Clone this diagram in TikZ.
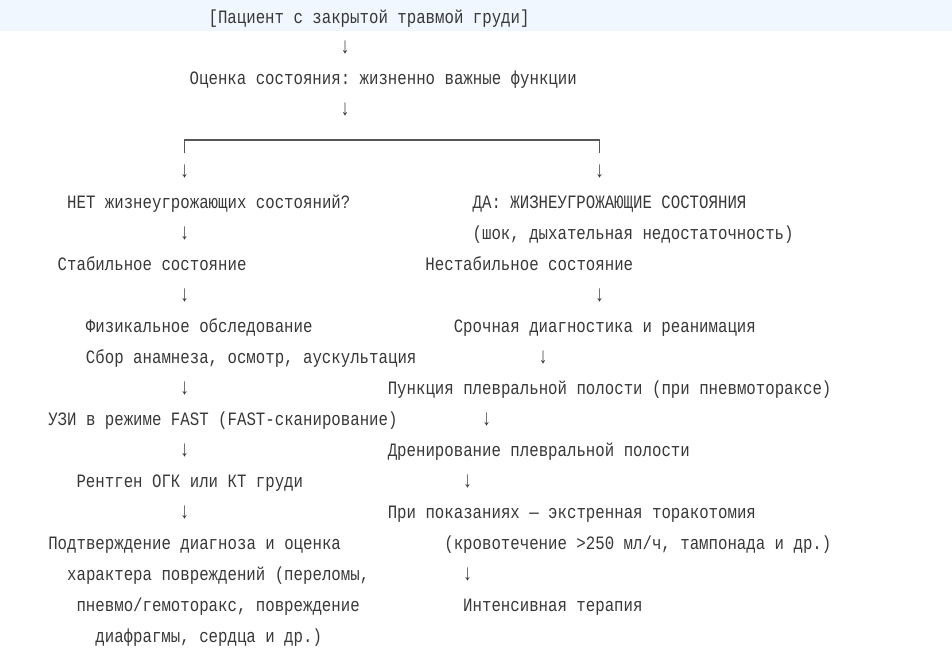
\documentclass[tikz,border=0pt]{standalone}
\usepackage{fontspec}
\setmonofont{Liberation Mono}
\usepackage{tikz}
\definecolor{ink}{HTML}{383838}
\definecolor{band}{HTML}{F0F7FE}
\tikzset{
  txt/.style={anchor=base west,inner sep=0pt,text=ink,yscale=1.2,transform shape,font=\ttfamily\fontsize{11.8pt}{14pt}\selectfont},
  arr/.style={inner sep=0pt,text=ink,yscale=1.35,transform shape,font=\ttfamily\fontsize{12.5pt}{14pt}\selectfont},
  line/.style={draw=ink!85,line width=0.9pt}
}
\begin{document}
\begin{tikzpicture}[x=0.75pt,y=-0.75pt]
	    \useasboundingbox (0,0) rectangle (952,651);
	    \fill[band] (0,0) rectangle (952,31);
	%Texte (Spalte/Zeile)
	    \foreach \c/\r/\t/\n in {17/0/{[Пациент с закрытой травмой груди]}/patient,
	      15/2/{Оценка состояния: жизненно важные функции}/assess,
	      2/6/{НЕТ жизнеугрожающих состояний?}/nothreat,
	      45/6/{ДА: ЖИЗНЕУГРОЖАЮЩИЕ СОСТОЯНИЯ}/threat,
	      45/7/{(шок, дыхательная недостаточность)}/shock,
	      1/8/{Стабильное состояние}/stable,
	      40/8/{Нестабильное состояние}/unstable,
	      4/10/{Физикальное обследование}/exam,
	      43/10/{Срочная диагностика и реанимация}/urgent,
	      4/11/{Сбор анамнеза, осмотр, аускультация}/history,
	      36/12/{Пункция плевральной полости (при пневмотораксе)}/puncture,
	      0/13/{УЗИ в режиме FAST (FAST-сканирование)}/fast,
	      36/14/{Дренирование плевральной полости}/drain,
	      3/15/{Рентген ОГК или КТ груди}/xray,
	      36/16/{При показаниях — экстренная торакотомия}/thoracotomy,
	      0/17/{Подтверждение диагноза и оценка}/confirm,
	      42/17/{(кровотечение >250 мл/ч, тампонада и др.)}/bleeding,
	      2/18/{характера повреждений (переломы,}/confirmb,
	      3/19/{пневмо/гемоторакс, повреждение}/confirmc,
	      44/19/{Интенсивная терапия}/intensive,
	      5/20/{диафрагмы, сердца и др.)}/confirmd}
	      \node[txt] (\n) at ({48+9.43*\c},{23+30.95*\r}) {\t};
	%Pfeile
	    \foreach \c/\r in {31/1,31/3,14/5,58/5,14/7,14/9,58/9,52/11,14/12,46/13,14/14,44/15,14/16,44/18}
	      \node[arr] at ({48+9.43*(\c+0.5)},{17+30.95*\r}) {↓};
	%Verzweigung
	    \coordinate (splitl) at ({48+9.43*14.5},153);
	    \coordinate (splitr) at ({48+9.43*58.5},153);
	    \draw[line] (splitl) -- ++(0,-13) -| (splitr);
	\end{tikzpicture}
\end{document}
